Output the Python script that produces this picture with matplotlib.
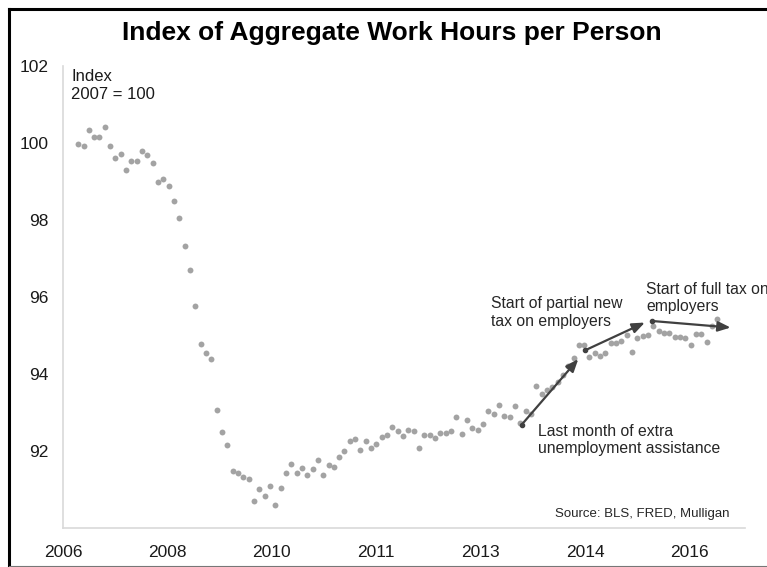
import matplotlib
matplotlib.use("Agg")
import matplotlib.pyplot as plt
from matplotlib.lines import Line2D

plt.rcParams["font.family"] = ["Liberation Sans", "DejaVu Sans"]

# monthly index values (2007 = 100)
index_values = [
    99.99, 99.94, 100.35, 100.17, 100.16, 100.41, 99.94, 99.62, 99.72, 99.31,
    99.55, 99.55, 99.80, 99.70, 99.48, 98.98, 99.06, 98.90, 98.50, 98.05,
    97.33, 96.71, 95.77, 94.77, 94.55, 94.39, 93.07, 92.50, 92.16, 91.48,
    91.44, 91.32, 91.27, 90.71, 91.02, 90.82, 91.08, 90.59, 91.05, 91.44,
    91.66, 91.43, 91.56, 91.39, 91.54, 91.77, 91.37, 91.64, 91.58, 91.84,
    91.99, 92.26, 92.32, 92.04, 92.26, 92.09, 92.18, 92.36, 92.43, 92.62,
    92.51, 92.39, 92.54, 92.51, 92.09, 92.42, 92.42, 92.33, 92.48, 92.47,
    92.52, 92.88, 92.45, 92.80, 92.59, 92.56, 92.71, 93.04, 92.95, 93.20,
    92.91, 92.88, 93.18, 92.73, 93.04, 92.95, 93.68, 93.49, 93.58, 93.67,
    93.79, 93.97, 94.22, 94.41, 94.75, 94.75, 94.44, 94.54, 94.48, 94.55,
    94.80, 94.81, 94.87, 95.01, 94.58, 94.95, 95.00, 95.02, 95.24, 95.12,
    95.08, 95.06, 94.97, 94.96, 94.95, 94.75, 95.05, 95.05, 94.83, 95.25,
    95.43,
]

# the axis is a category axis: a label about every 19.6 points
tick_labels = ["2006", "2008", "2010", "2011", "2013", "2014", "2016"]
first_tick = -2.85
tick_step = 19.6

y_ticks = [92, 94, 96, 98, 100, 102]

# annotations: (text, text position, arrow tail, arrow head)
notes = [
    ("Last month of extra\nunemployment assistance", (86.4, 92.71), (83.3, 92.69), (93.9, 94.39)),
    ("Start of partial new\ntax on employers", (77.5, 96.02), (95.2, 94.62), (106.4, 95.34)),
    ("Start of full tax on\nemployers", (106.7, 96.40), (107.8, 95.38), (122.5, 95.21)),
]

W, H = 767, 567
fig = plt.figure(figsize=(W / 100, H / 100), dpi=100)
ax = fig.add_axes([63 / W, 1 - 528 / H, (745 - 63) / W, (528 - 66.3) / H])

xs = list(range(len(index_values)))
ax.scatter(xs, index_values, s=18, color="#a3a3a3", linewidths=0, zorder=2)

ax.set_xlim(-2.76, 125.2)
ax.set_ylim(90, 102)

ax.set_xticks([first_tick + tick_step * k for k in range(len(tick_labels))])
ax.set_xticklabels(tick_labels, fontsize=12.5)
ax.set_yticks(y_ticks)
ax.set_yticklabels([str(v) for v in y_ticks], fontsize=12.5)
ax.tick_params(axis="x", length=0, pad=12, colors="#1a1a1a")
ax.tick_params(axis="y", length=0, pad=10.5, colors="#1a1a1a")

for side in ["top", "right"]:
    ax.spines[side].set_visible(False)
for side in ["left", "bottom"]:
    ax.spines[side].set_color("#d9d9d9")
    ax.spines[side].set_linewidth(1.2)

ax.text(0.012, 0.995, "Index\n2007 = 100", transform=ax.transAxes, fontsize=12,
        va="top", ha="left", color="#1a1a1a", linespacing=1.25)

for text, pos, tail, head in notes:
    ax.text(pos[0], pos[1], text, fontsize=11.3, va="top", ha="left",
            color="#262626", linespacing=1.2)
    ax.annotate("", xy=head, xytext=tail,
                arrowprops=dict(arrowstyle="-|>,head_length=0.75,head_width=0.3",
                                color="#404040", lw=1.6, shrinkA=0, shrinkB=0),
                zorder=3)
    ax.plot([tail[0]], [tail[1]], marker="o", markersize=3, color="#404040", zorder=3)

ax.text(0.978, 0.030, "Source: BLS, FRED, Mulligan", transform=ax.transAxes,
        fontsize=9.5, ha="right", va="center", color="#262626")

fig.text(392 / W, 1 - 33 / H, "Index of Aggregate Work Hours per Person",
         fontsize=19, fontweight="bold", ha="center", va="center",
         family=["Liberation Sans Narrow", "Liberation Sans", "DejaVu Sans"])

# frame around the picture (left, top, bottom)
fig.add_artist(Line2D([9 / W, 9 / W], [1 - 9 / H, 1 - 566 / H], transform=fig.transFigure,
                      color="black", lw=2.2))
fig.add_artist(Line2D([9 / W, 1], [1 - 9 / H, 1 - 9 / H], transform=fig.transFigure,
                      color="black", lw=2.2))
fig.add_artist(Line2D([9 / W, 1], [1 - 566 / H, 1 - 566 / H], transform=fig.transFigure,
                      color="#777777", lw=0.8))

fig.savefig("out.png", dpi=100)
